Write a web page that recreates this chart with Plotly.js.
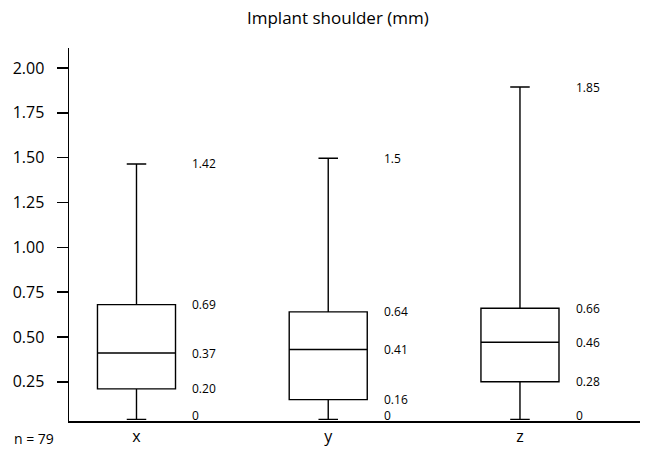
<!DOCTYPE html>
<html><head><meta charset="utf-8">
<script src="https://cdn.plot.ly/plotly-3.0.1.min.js"></script>
<style>html,body{margin:0;padding:0;background:#fff}</style>
</head><body><div id="chart" style="width:651px;height:454px"></div>
<script>
const categories = ['x', 'y', 'z'];
const lowerWhisker = [0.04, 0.04, 0.04];
const q1 = [0.21, 0.15, 0.25];
const median = [0.41, 0.43, 0.47];
const q3 = [0.68, 0.64, 0.66];
const upperWhisker = [1.465, 1.497, 1.894];
const labelLow = ['0', '0', '0'];
const labelQ1 = ['0.20', '0.16', '0.28'];
const labelMed = ['0.37', '0.41', '0.46'];
const labelQ3 = ['0.69', '0.64', '0.66'];
const labelUp = ['1.42', '1.5', '1.85'];
const yTicks = [0.25, 0.5, 0.75, 1.0, 1.25, 1.5, 1.75, 2.0];

const xpos = categories.map((c, i) => i);
const trace = {
  type: 'box',
  x: xpos,
  q1: q1, median: median, q3: q3,
  lowerfence: lowerWhisker, upperfence: upperWhisker,
  width: 0.407,
  whiskerwidth: 0.25,
  fillcolor: '#ffffff',
  line: {color: '#000000', width: 1.4},
  boxpoints: false,
  hoverinfo: 'skip'
};

const ann = [];
const groups = [[lowerWhisker, labelLow, 0.022], [q1, labelQ1, 0], [median, labelMed, 0], [q3, labelQ3, 0], [upperWhisker, labelUp, 0]];
groups.forEach(([vals, labels, dy]) => {
  vals.forEach((v, i) => {
    ann.push({x: i + 0.28, y: v + dy, xref: 'x', yref: 'y', text: labels[i], showarrow: false,
      xanchor: 'left', yanchor: 'middle', font: {family: 'Open Sans, sans-serif', size: 12, color: '#000'}});
  });
});
ann.push({x: -0.1, y: -0.046, xref: 'paper', yref: 'paper', text: 'n = 79', showarrow: false,
  xanchor: 'left', yanchor: 'middle', font: {family: 'Open Sans, sans-serif', size: 14, color: '#000'}});

const layout = {
  width: 651, height: 454,
  margin: {l: 69, r: 11, t: 48, b: 33},
  paper_bgcolor: '#fff', plot_bgcolor: '#fff',
  showlegend: false,
  title: {text: 'Implant shoulder (mm)', x: 0.519, xanchor: 'center', y: 0.96, yanchor: 'middle',
    font: {family: 'Open Sans, sans-serif', size: 17, color: '#000'}},
  xaxis: {range: [-0.352, 2.626], tickvals: xpos, ticktext: categories, showline: true, linecolor: '#000', linewidth: 1.5,
    showgrid: false, zeroline: false, ticks: '', tickfont: {family: 'Open Sans, sans-serif', size: 16, color: '#000'}},
  yaxis: {range: [0.031, 2.112], tickvals: yTicks, tickformat: '.2f', showline: true, linecolor: '#000', linewidth: 1.5,
    showgrid: false, zeroline: false, ticks: 'outside', ticklen: 11, tickwidth: 1.5, tickcolor: '#000',
    ticklabelstandoff: 9,
    tickfont: {family: 'Open Sans, sans-serif', size: 16, color: '#000'}},
  annotations: ann
};
Plotly.newPlot('chart', [trace], layout, {staticPlot: true, displayModeBar: false});
</script></body></html>
